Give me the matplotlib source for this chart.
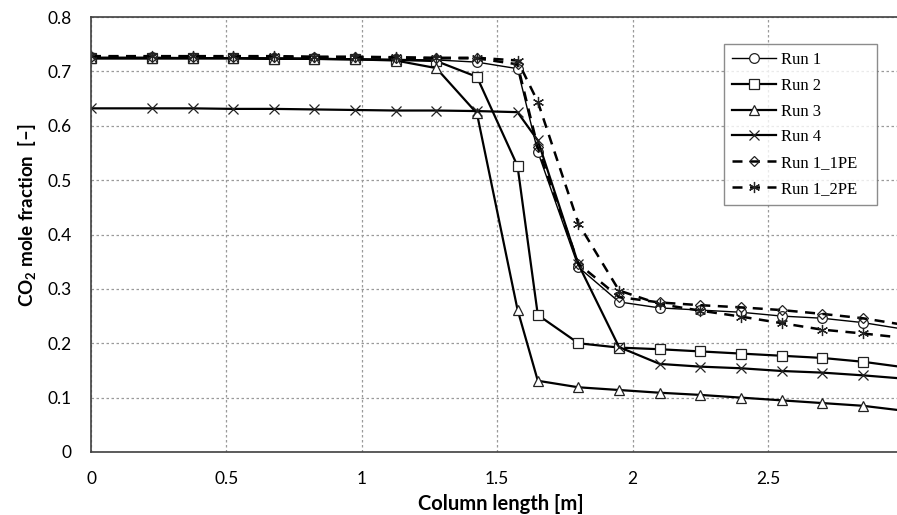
import matplotlib
matplotlib.use("Agg")
import matplotlib.pyplot as plt

# Data
x = [0, 0.225, 0.375, 0.525, 0.675, 0.825, 0.975, 1.125, 1.275, 1.425, 1.575,
     1.65, 1.8, 1.95, 2.1, 2.25, 2.4, 2.55, 2.7, 2.85, 3.0]
run1 = [0.726, 0.726, 0.725, 0.725, 0.725, 0.724, 0.723, 0.722, 0.721, 0.717, 0.705,
        0.552, 0.340, 0.276, 0.265, 0.261, 0.257, 0.250, 0.246, 0.238, 0.226]
run2 = [0.724, 0.724, 0.724, 0.724, 0.723, 0.723, 0.722, 0.721, 0.719, 0.690, 0.526,
        0.252, 0.200, 0.192, 0.189, 0.185, 0.181, 0.177, 0.173, 0.166, 0.156]
run3 = [0.724, 0.724, 0.724, 0.724, 0.723, 0.723, 0.722, 0.720, 0.706, 0.623, 0.262,
        0.131, 0.119, 0.114, 0.109, 0.105, 0.100, 0.095, 0.090, 0.085, 0.076]
run4 = [0.632, 0.632, 0.632, 0.631, 0.631, 0.630, 0.629, 0.628, 0.628, 0.627, 0.625,
        0.573, 0.345, 0.193, 0.162, 0.157, 0.154, 0.149, 0.146, 0.141, 0.135]
run1_1pe = [0.727, 0.727, 0.727, 0.727, 0.727, 0.726, 0.726, 0.725, 0.724, 0.724, 0.713,
            0.560, 0.346, 0.285, 0.275, 0.270, 0.266, 0.261, 0.254, 0.246, 0.234]
run1_2pe = [0.728, 0.728, 0.728, 0.728, 0.728, 0.727, 0.727, 0.726, 0.725, 0.725, 0.720,
            0.644, 0.420, 0.297, 0.272, 0.260, 0.249, 0.237, 0.225, 0.218, 0.210]
labels = ["Run 1", "Run 2", "Run 3", "Run 4", "Run 1_1PE", "Run 1_2PE"]
xticks = [0, 0.5, 1, 1.5, 2, 2.5]
xticklabels = ["0", "0.5", "1", "1.5", "2", "2.5"]
yticks = [0, 0.1, 0.2, 0.3, 0.4, 0.5, 0.6, 0.7, 0.8]
yticklabels = ["0", "0.1", "0.2", "0.3", "0.4", "0.5", "0.6", "0.7", "0.8"]

plt.rcParams['font.family'] = ['Lato', 'DejaVu Sans']
plt.rcParams['mathtext.fontset'] = 'custom'
plt.rcParams['mathtext.rm'] = 'Lato:bold'
plt.rcParams['mathtext.bf'] = 'Lato:bold'

W, H = 897, 515
fig = plt.figure(figsize=(W / 100, H / 100), dpi=100)
left, right, top, bottom = 91, 897, 17, 452
ax = fig.add_axes([left / W, (H - bottom) / H, (right - left) / W, (bottom - top) / H])

series = [run1, run2, run3, run4, run1_1pe, run1_2pe]
styles = [
    dict(ls='-', lw=1.0, marker='o', ms=7, mfc='white'),
    dict(ls='-', lw=1.6, marker='s', ms=7, mfc='white'),
    dict(ls='-', lw=1.6, marker='^', ms=7, mfc='white'),
    dict(ls='-', lw=1.6, marker='x', ms=7, mfc='white'),
    dict(ls=(0, (4, 3)), lw=1.8, marker='D', ms=5.5, mfc='none'),
    dict(ls=(0, (4, 3)), lw=1.8, marker=(6, 2, 0), ms=8, mfc='white'),
]
nmark = list(range(len(x) - 1))
for ys, st, lab in zip(series, styles, labels):
    ax.plot(x, ys, color='black', mec='#222222', mew=0.9,
            markevery=nmark, label=lab, **st)

ax.set_xlim(0, (right - left) / 270.8)
ax.set_ylim(0, 0.8)
ax.set_xticks(xticks)
ax.set_xticklabels(xticklabels)
ax.set_yticks(yticks)
ax.set_yticklabels(yticklabels)
ax.tick_params(length=0, pad=14, labelsize=12.5)
ax.grid(True, color='#9a9a9a', ls=(0, (2, 2)), lw=0.9)
ax.set_axisbelow(True)
for s in ['left', 'top', 'bottom']:
    ax.spines[s].set_color('#404040')
    ax.spines[s].set_linewidth(1.2)
ax.spines['right'].set_visible(False)

ax.set_xlabel("Column length [m]", fontsize=14.5, fontweight='bold')
ax.set_ylabel(r"CO$_{\mathrm{2}}$ mole fraction  [–]", fontsize=13.5, fontweight='bold')
ax.xaxis.set_label_coords((501 - left) / (right - left), -(504 - bottom) / (bottom - top))
ax.yaxis.set_label_coords(-(91 - 28) / (right - left), (bottom - 215) / (bottom - top))
ax.xaxis.label.set_va('center')
ax.yaxis.label.set_va('center')

aw, ah = right - left, bottom - top
lx0 = (724 - left) / aw
lw_ = (877 - 724) / aw
ly1 = (bottom - 44) / ah
leg = ax.legend(loc='upper left', bbox_to_anchor=(lx0, ly1 - 0.3, lw_, 0.3), mode='expand',
                borderaxespad=0, frameon=True, fancybox=False, edgecolor='#707070',
                prop={'family': 'Liberation Serif', 'size': 12}, handlelength=2.6,
                handletextpad=0.3, labelspacing=0.58, borderpad=0.5)
leg.get_frame().set_linewidth(1.0)

fig.savefig("out.png", dpi=100)
